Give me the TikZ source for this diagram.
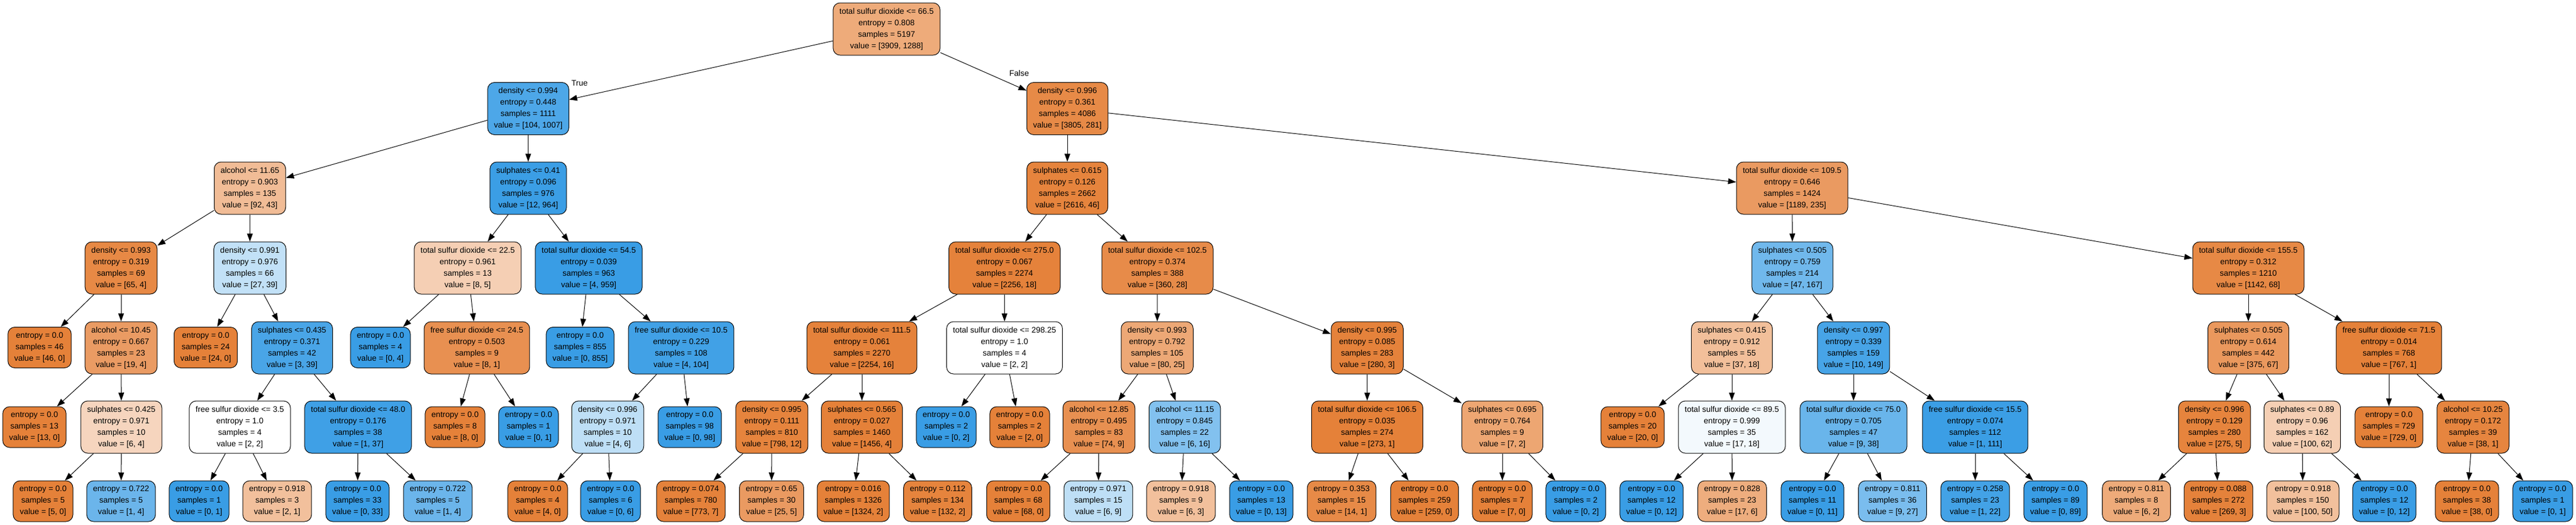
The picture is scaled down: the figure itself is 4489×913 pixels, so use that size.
\documentclass[tikz,border=0pt]{standalone}
\usepackage{fontspec}
\setmainfont{Liberation Sans}
\usetikzlibrary{arrows.meta}

\definecolor{cls0}{RGB}{229,129,57}
\definecolor{cls1}{RGB}{57,157,229}

\begin{document}
\begin{tikzpicture} [
        x = 1pt,
        y = -1pt,
        every node/.style = {
          align = center,
          font = \fontsize{14}{20}\selectfont,
        },
        splitbox/.style = {
          draw,
          line width = 1pt,
          rounded corners = 12pt,
          inner xsep = 11pt,
          inner ysep = 0pt,
          minimum height = 91pt,
        },
        leafbox/.style = {
          splitbox,
          minimum height = 71pt,
        },
        branch/.style = {
          draw,
          line width = 1pt,
          -{Triangle[length=14pt, width=10pt]},
        },
      ]

    \useasboundingbox (0,0) rectangle (4489,913);

    % root
    \node [splitbox, fill=cls0!67!white] (root) at (1545, 50.5) {total sulfur dioxide <= 66.5\\entropy = 0.808\\samples = 5197\\value = [3909, 1288]};

    % depth 1
    \node [splitbox, fill=cls1!90!white] (nL) at (920.5, 189) {density <= 0.994\\entropy = 0.448\\samples = 1111\\value = [104, 1007]};
    \node [splitbox, fill=cls0!93!white] (nR) at (1860, 189) {density <= 0.996\\entropy = 0.361\\samples = 4086\\value = [3805, 281]};

    % depth 2
    \node [splitbox, fill=cls0!53!white] (nLL) at (435.5, 327.5) {alcohol <= 11.65\\entropy = 0.903\\samples = 135\\value = [92, 43]};
    \node [splitbox, fill=cls1!99!white] (nLR) at (920.5, 327.5) {sulphates <= 0.41\\entropy = 0.096\\samples = 976\\value = [12, 964]};
    \node [splitbox, fill=cls0!98!white] (nRL) at (1860, 327.5) {sulphates <= 0.615\\entropy = 0.126\\samples = 2662\\value = [2616, 46]};
    \node [splitbox, fill=cls0!80!white] (nRR) at (3123, 327.5) {total sulfur dioxide <= 109.5\\entropy = 0.646\\samples = 1424\\value = [1189, 235]};

    % depth 3
    \node [splitbox, fill=cls0!94!white] (nLLL) at (211, 466.5) {density <= 0.993\\entropy = 0.319\\samples = 69\\value = [65, 4]};
    \node [splitbox, fill=cls1!31!white] (nLLR) at (435.5, 466.5) {density <= 0.991\\entropy = 0.976\\samples = 66\\value = [27, 39]};
    \node [splitbox, fill=cls0!38!white] (nLRL) at (815, 466.5) {total sulfur dioxide <= 22.5\\entropy = 0.961\\samples = 13\\value = [8, 5]};
    \node [splitbox, fill=cls1] (nLRR) at (1026, 466.5) {total sulfur dioxide <= 54.5\\entropy = 0.039\\samples = 963\\value = [4, 959]};
    \node [splitbox, fill=cls0!99!white] (nRLL) at (1750.5, 466.5) {total sulfur dioxide <= 275.0\\entropy = 0.067\\samples = 2274\\value = [2256, 18]};
    \node [splitbox, fill=cls0!92!white] (nRLR) at (2017, 466.5) {total sulfur dioxide <= 102.5\\entropy = 0.374\\samples = 388\\value = [360, 28]};
    \node [splitbox, fill=cls1!72!white] (nRRL) at (3123.5, 466.5) {sulphates <= 0.505\\entropy = 0.759\\samples = 214\\value = [47, 167]};
    \node [splitbox, fill=cls0!94!white] (nRRR) at (3918, 466.5) {total sulfur dioxide <= 155.5\\entropy = 0.312\\samples = 1210\\value = [1142, 68]};

    % depth 4
    \node [leafbox, fill=cls0] (nLLLL) at (69, 605) {entropy = 0.0\\samples = 46\\value = [46, 0]};
    \node [splitbox, fill=cls0!79!white] (nLLLR) at (211, 605.5) {alcohol <= 10.45\\entropy = 0.667\\samples = 23\\value = [19, 4]};
    \node [leafbox, fill=cls0] (nLLRL) at (358.5, 605) {entropy = 0.0\\samples = 24\\value = [24, 0]};
    \node [splitbox, fill=cls1!92!white] (nLLRR) at (509, 605.5) {sulphates <= 0.435\\entropy = 0.371\\samples = 42\\value = [3, 39]};
    \node [leafbox, fill=cls1] (nLRLL) at (663, 605) {entropy = 0.0\\samples = 4\\value = [0, 4]};
    \node [splitbox, fill=cls0!88!white] (nLRLR) at (831, 605.5) {free sulfur dioxide <= 24.5\\entropy = 0.503\\samples = 9\\value = [8, 1]};
    \node [leafbox, fill=cls1] (nLRRL) at (1011, 605) {entropy = 0.0\\samples = 855\\value = [0, 855]};
    \node [splitbox, fill=cls1!96!white] (nLRRR) at (1187, 605.5) {free sulfur dioxide <= 10.5\\entropy = 0.229\\samples = 108\\value = [4, 104]};
    \node [splitbox, fill=cls0!99!white] (nRLLL) at (1502, 605.5) {total sulfur dioxide <= 111.5\\entropy = 0.061\\samples = 2270\\value = [2254, 16]};
    \node [splitbox, fill=white] (nRLLR) at (1750.5, 605.5) {total sulfur dioxide <= 298.25\\entropy = 1.0\\samples = 4\\value = [2, 2]};
    \node [splitbox, fill=cls0!69!white] (nRLRL) at (2016.5, 605.5) {density <= 0.993\\entropy = 0.792\\samples = 105\\value = [80, 25]};
    \node [splitbox, fill=cls0!99!white] (nRLRR) at (2382.5, 605.5) {density <= 0.995\\entropy = 0.085\\samples = 283\\value = [280, 3]};
    \node [splitbox, fill=cls0!51!white] (nRRLL) at (3018, 605.5) {sulphates <= 0.415\\entropy = 0.912\\samples = 55\\value = [37, 18]};
    \node [splitbox, fill=cls1!93!white] (nRRLR) at (3230, 605.5) {density <= 0.997\\entropy = 0.339\\samples = 159\\value = [10, 149]};
    \node [splitbox, fill=cls0!82!white] (nRRRL) at (3918, 605.5) {sulphates <= 0.505\\entropy = 0.614\\samples = 442\\value = [375, 67]};
    \node [splitbox, fill=cls0] (nRRRR) at (4163, 605.5) {free sulfur dioxide <= 71.5\\entropy = 0.014\\samples = 768\\value = [767, 1]};

    % depth 5
    \node [leafbox, fill=cls0] (nLLLRL) at (60, 743.5) {entropy = 0.0\\samples = 13\\value = [13, 0]};
    \node [splitbox, fill=cls0!33!white] (nLLLRR) at (211.5, 743.5) {sulphates <= 0.425\\entropy = 0.971\\samples = 10\\value = [6, 4]};
    \node [splitbox, fill=white] (nLLRRL) at (418, 743.5) {free sulfur dioxide <= 3.5\\entropy = 1.0\\samples = 4\\value = [2, 2]};
    \node [splitbox, fill=cls1!97!white] (nLLRRR) at (624, 743.5) {total sulfur dioxide <= 48.0\\entropy = 0.176\\samples = 38\\value = [1, 37]};
    \node [leafbox, fill=cls0] (nLRLRL) at (793, 743.5) {entropy = 0.0\\samples = 8\\value = [8, 0]};
    \node [leafbox, fill=cls1] (nLRLRR) at (921, 743.5) {entropy = 0.0\\samples = 1\\value = [0, 1]};
    \node [splitbox, fill=cls1!33!white] (nLRRRL) at (1059, 743.5) {density <= 0.996\\entropy = 0.971\\samples = 10\\value = [4, 6]};
    \node [leafbox, fill=cls1] (nLRRRR) at (1202, 743.5) {entropy = 0.0\\samples = 98\\value = [0, 98]};
    \node [splitbox, fill=cls0!98!white] (nRLLLL) at (1345, 743.5) {density <= 0.995\\entropy = 0.111\\samples = 810\\value = [798, 12]};
    \node [splitbox, fill=cls0] (nRLLLR) at (1502, 743.5) {sulphates <= 0.565\\entropy = 0.027\\samples = 1460\\value = [1456, 4]};
    \node [leafbox, fill=cls1] (nRLLRL) at (1649, 743.5) {entropy = 0.0\\samples = 2\\value = [0, 2]};
    \node [leafbox, fill=cls0] (nRLLRR) at (1777, 743.5) {entropy = 0.0\\samples = 2\\value = [2, 0]};
    \node [splitbox, fill=cls0!88!white] (nRLRLL) at (1915, 743.5) {alcohol <= 12.85\\entropy = 0.495\\samples = 83\\value = [74, 9]};
    \node [splitbox, fill=cls1!63!white] (nRLRLR) at (2064.5, 743.5) {alcohol <= 11.15\\entropy = 0.845\\samples = 22\\value = [6, 16]};
    \node [splitbox, fill=cls0] (nRLRRL) at (2382.5, 743.5) {total sulfur dioxide <= 106.5\\entropy = 0.035\\samples = 274\\value = [273, 1]};
    \node [splitbox, fill=cls0!71!white] (nRLRRR) at (2618, 743.5) {sulphates <= 0.695\\entropy = 0.764\\samples = 9\\value = [7, 2]};
    \node [leafbox, fill=cls0] (nRRLLL) at (2845, 743.5) {entropy = 0.0\\samples = 20\\value = [20, 0]};
    \node [splitbox, fill=cls1!6!white] (nRRLLR) at (3018, 743.5) {total sulfur dioxide <= 89.5\\entropy = 0.999\\samples = 35\\value = [17, 18]};
    \node [splitbox, fill=cls1!76!white] (nRRLRL) at (3230, 743.5) {total sulfur dioxide <= 75.0\\entropy = 0.705\\samples = 47\\value = [9, 38]};
    \node [splitbox, fill=cls1!99!white] (nRRLRR) at (3442, 743.5) {free sulfur dioxide <= 15.5\\entropy = 0.074\\samples = 112\\value = [1, 111]};
    \node [splitbox, fill=cls0!98!white] (nRRRLL) at (3859, 743.5) {density <= 0.996\\entropy = 0.129\\samples = 280\\value = [275, 5]};
    \node [splitbox, fill=cls0!38!white] (nRRRLR) at (4012, 743.5) {sulphates <= 0.89\\entropy = 0.96\\samples = 162\\value = [100, 62]};
    \node [leafbox, fill=cls0] (nRRRRL) at (4163, 743.5) {entropy = 0.0\\samples = 729\\value = [729, 0]};
    \node [splitbox, fill=cls0!97!white] (nRRRRR) at (4309.5, 743.5) {alcohol <= 10.25\\entropy = 0.172\\samples = 39\\value = [38, 1]};

    % depth 6
    \node [leafbox, fill=cls0] (nLLLRRL) at (75, 872.5) {entropy = 0.0\\samples = 5\\value = [5, 0]};
    \node [leafbox, fill=cls1!75!white] (nLLLRRR) at (211, 872.5) {entropy = 0.722\\samples = 5\\value = [1, 4]};
    \node [leafbox, fill=cls1] (nLLRRLL) at (347, 872.5) {entropy = 0.0\\samples = 1\\value = [0, 1]};
    \node [leafbox, fill=cls0!50!white] (nLLRRLR) at (483, 872.5) {entropy = 0.918\\samples = 3\\value = [2, 1]};
    \node [leafbox, fill=cls1] (nLLRRRL) at (623, 872.5) {entropy = 0.0\\samples = 33\\value = [0, 33]};
    \node [leafbox, fill=cls1!75!white] (nLLRRRR) at (763, 872.5) {entropy = 0.722\\samples = 5\\value = [1, 4]};
    \node [leafbox, fill=cls0] (nLRRRLL) at (937, 872.5) {entropy = 0.0\\samples = 4\\value = [4, 0]};
    \node [leafbox, fill=cls1] (nLRRRLR) at (1064, 872.5) {entropy = 0.0\\samples = 6\\value = [0, 6]};
    \node [leafbox, fill=cls0!99!white] (nRLLLLL) at (1204, 872.5) {entropy = 0.074\\samples = 780\\value = [773, 7]};
    \node [leafbox, fill=cls0!80!white] (nRLLLLR) at (1344.5, 872.5) {entropy = 0.65\\samples = 30\\value = [25, 5]};
    \node [leafbox, fill=cls0] (nRLLLRL) at (1487, 872.5) {entropy = 0.016\\samples = 1326\\value = [1324, 2]};
    \node [leafbox, fill=cls0!98!white] (nRLLLRR) at (1634, 872.5) {entropy = 0.112\\samples = 134\\value = [132, 2]};
    \node [leafbox, fill=cls0] (nRLRLLL) at (1774.5, 872.5) {entropy = 0.0\\samples = 68\\value = [68, 0]};
    \node [leafbox, fill=cls1!33!white] (nRLRLLR) at (1914, 872.5) {entropy = 0.971\\samples = 15\\value = [6, 9]};
    \node [leafbox, fill=cls0!50!white] (nRLRLRL) at (2058, 872.5) {entropy = 0.918\\samples = 9\\value = [6, 3]};
    \node [leafbox, fill=cls1] (nRLRLRR) at (2198, 872.5) {entropy = 0.0\\samples = 13\\value = [0, 13]};
    \node [leafbox, fill=cls0!93!white] (nRLRRLL) at (2338, 872.5) {entropy = 0.353\\samples = 15\\value = [14, 1]};
    \node [leafbox, fill=cls0] (nRLRRLR) at (2482.5, 872.5) {entropy = 0.0\\samples = 259\\value = [259, 0]};
    \node [leafbox, fill=cls0] (nRLRRRL) at (2618, 872.5) {entropy = 0.0\\samples = 7\\value = [7, 0]};
    \node [leafbox, fill=cls1] (nRLRRRR) at (2746, 872.5) {entropy = 0.0\\samples = 2\\value = [0, 2]};
    \node [leafbox, fill=cls1] (nRRLLRL) at (2878, 872.5) {entropy = 0.0\\samples = 12\\value = [0, 12]};
    \node [leafbox, fill=cls0!65!white] (nRRLLRR) at (3018.5, 872.5) {entropy = 0.828\\samples = 23\\value = [17, 6]};
    \node [leafbox, fill=cls1] (nRRLRLL) at (3158.5, 872.5) {entropy = 0.0\\samples = 11\\value = [0, 11]};
    \node [leafbox, fill=cls1!67!white] (nRRLRLR) at (3298, 872.5) {entropy = 0.811\\samples = 36\\value = [9, 27]};
    \node [leafbox, fill=cls1!95!white] (nRRLRRL) at (3442, 872.5) {entropy = 0.258\\samples = 23\\value = [1, 22]};
    \node [leafbox, fill=cls1] (nRRLRRR) at (3582, 872.5) {entropy = 0.0\\samples = 89\\value = [0, 89]};
    \node [leafbox, fill=cls0!67!white] (nRRRLLL) at (3723, 872.5) {entropy = 0.811\\samples = 8\\value = [6, 2]};
    \node [leafbox, fill=cls0!99!white] (nRRRLLR) at (3866, 872.5) {entropy = 0.088\\samples = 272\\value = [269, 3]};
    \node [leafbox, fill=cls0!50!white] (nRRRLRL) at (4013, 872.5) {entropy = 0.918\\samples = 150\\value = [100, 50]};
    \node [leafbox, fill=cls1] (nRRRLRR) at (4155, 872.5) {entropy = 0.0\\samples = 12\\value = [0, 12]};
    \node [leafbox, fill=cls0] (nRRRRRL) at (4299, 872.5) {entropy = 0.0\\samples = 38\\value = [38, 0]};
    \node [leafbox, fill=cls1] (nRRRRRR) at (4431, 872.5) {entropy = 0.0\\samples = 1\\value = [0, 1]};

    % edge labels
    \node (trueLbl) at (1010, 145) {True};
    \node (falseLbl) at (1776, 127) {False};

    % branches
    \draw[branch] (root) -- (nL);
    \draw[branch] (root) -- (nR);
    \draw[branch] (nL) -- (nLL);
    \draw[branch] (nL) -- (nLR);
    \draw[branch] (nR) -- (nRL);
    \draw[branch] (nR) -- (nRR);
    \draw[branch] (nLL) -- (nLLL);
    \draw[branch] (nLL) -- (nLLR);
    \draw[branch] (nLR) -- (nLRL);
    \draw[branch] (nLR) -- (nLRR);
    \draw[branch] (nRL) -- (nRLL);
    \draw[branch] (nRL) -- (nRLR);
    \draw[branch] (nRR) -- (nRRL);
    \draw[branch] (nRR) -- (nRRR);
    \draw[branch] (nLLL) -- (nLLLL);
    \draw[branch] (nLLL) -- (nLLLR);
    \draw[branch] (nLLR) -- (nLLRL);
    \draw[branch] (nLLR) -- (nLLRR);
    \draw[branch] (nLRL) -- (nLRLL);
    \draw[branch] (nLRL) -- (nLRLR);
    \draw[branch] (nLRR) -- (nLRRL);
    \draw[branch] (nLRR) -- (nLRRR);
    \draw[branch] (nRLL) -- (nRLLL);
    \draw[branch] (nRLL) -- (nRLLR);
    \draw[branch] (nRLR) -- (nRLRL);
    \draw[branch] (nRLR) -- (nRLRR);
    \draw[branch] (nRRL) -- (nRRLL);
    \draw[branch] (nRRL) -- (nRRLR);
    \draw[branch] (nRRR) -- (nRRRL);
    \draw[branch] (nRRR) -- (nRRRR);
    \draw[branch] (nLLLR) -- (nLLLRL);
    \draw[branch] (nLLLR) -- (nLLLRR);
    \draw[branch] (nLLRR) -- (nLLRRL);
    \draw[branch] (nLLRR) -- (nLLRRR);
    \draw[branch] (nLRLR) -- (nLRLRL);
    \draw[branch] (nLRLR) -- (nLRLRR);
    \draw[branch] (nLRRR) -- (nLRRRL);
    \draw[branch] (nLRRR) -- (nLRRRR);
    \draw[branch] (nRLLL) -- (nRLLLL);
    \draw[branch] (nRLLL) -- (nRLLLR);
    \draw[branch] (nRLLR) -- (nRLLRL);
    \draw[branch] (nRLLR) -- (nRLLRR);
    \draw[branch] (nRLRL) -- (nRLRLL);
    \draw[branch] (nRLRL) -- (nRLRLR);
    \draw[branch] (nRLRR) -- (nRLRRL);
    \draw[branch] (nRLRR) -- (nRLRRR);
    \draw[branch] (nRRLL) -- (nRRLLL);
    \draw[branch] (nRRLL) -- (nRRLLR);
    \draw[branch] (nRRLR) -- (nRRLRL);
    \draw[branch] (nRRLR) -- (nRRLRR);
    \draw[branch] (nRRRL) -- (nRRRLL);
    \draw[branch] (nRRRL) -- (nRRRLR);
    \draw[branch] (nRRRR) -- (nRRRRL);
    \draw[branch] (nRRRR) -- (nRRRRR);
    \draw[branch] (nLLLRR) -- (nLLLRRL);
    \draw[branch] (nLLLRR) -- (nLLLRRR);
    \draw[branch] (nLLRRL) -- (nLLRRLL);
    \draw[branch] (nLLRRL) -- (nLLRRLR);
    \draw[branch] (nLLRRR) -- (nLLRRRL);
    \draw[branch] (nLLRRR) -- (nLLRRRR);
    \draw[branch] (nLRRRL) -- (nLRRRLL);
    \draw[branch] (nLRRRL) -- (nLRRRLR);
    \draw[branch] (nRLLLL) -- (nRLLLLL);
    \draw[branch] (nRLLLL) -- (nRLLLLR);
    \draw[branch] (nRLLLR) -- (nRLLLRL);
    \draw[branch] (nRLLLR) -- (nRLLLRR);
    \draw[branch] (nRLRLL) -- (nRLRLLL);
    \draw[branch] (nRLRLL) -- (nRLRLLR);
    \draw[branch] (nRLRLR) -- (nRLRLRL);
    \draw[branch] (nRLRLR) -- (nRLRLRR);
    \draw[branch] (nRLRRL) -- (nRLRRLL);
    \draw[branch] (nRLRRL) -- (nRLRRLR);
    \draw[branch] (nRLRRR) -- (nRLRRRL);
    \draw[branch] (nRLRRR) -- (nRLRRRR);
    \draw[branch] (nRRLLR) -- (nRRLLRL);
    \draw[branch] (nRRLLR) -- (nRRLLRR);
    \draw[branch] (nRRLRL) -- (nRRLRLL);
    \draw[branch] (nRRLRL) -- (nRRLRLR);
    \draw[branch] (nRRLRR) -- (nRRLRRL);
    \draw[branch] (nRRLRR) -- (nRRLRRR);
    \draw[branch] (nRRRLL) -- (nRRRLLL);
    \draw[branch] (nRRRLL) -- (nRRRLLR);
    \draw[branch] (nRRRLR) -- (nRRRLRL);
    \draw[branch] (nRRRLR) -- (nRRRLRR);
    \draw[branch] (nRRRRR) -- (nRRRRRL);
    \draw[branch] (nRRRRR) -- (nRRRRRR);
  \end{tikzpicture}
\end{document}
